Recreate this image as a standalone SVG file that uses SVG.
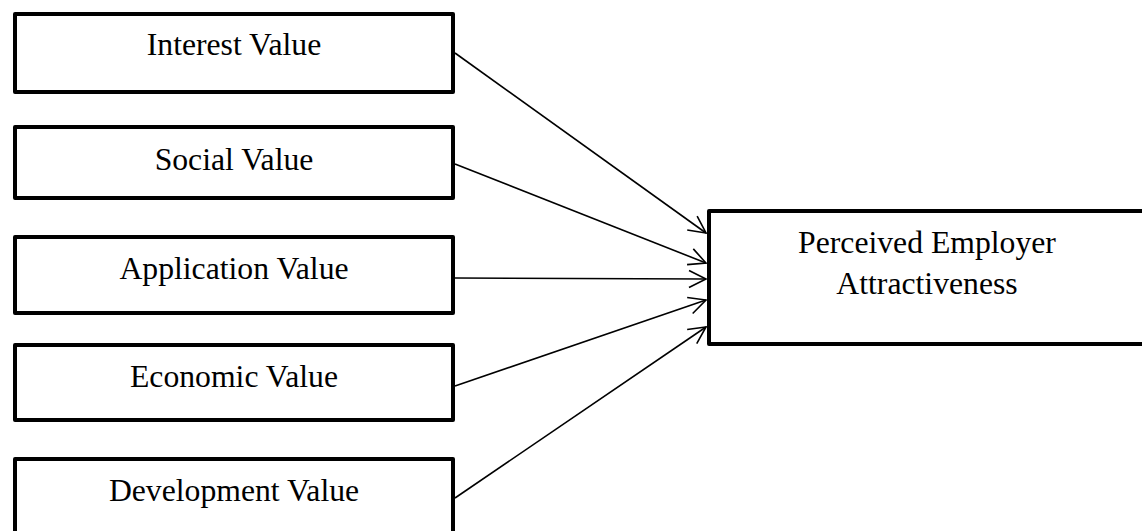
<svg xmlns="http://www.w3.org/2000/svg" width="1142" height="531" viewBox="0 0 1142 531">
<style>
.box{fill:#fff;stroke:#000;stroke-width:4;stroke-linejoin:round}
.lbl{font-family:"Liberation Serif","Times New Roman",serif;font-size:31.7px;fill:#000;text-anchor:middle}
.conn{stroke:#000;stroke-width:1.6;fill:none;marker-end:url(#arr)}
</style>
<defs>
<marker id="arr" markerUnits="userSpaceOnUse" markerWidth="24" markerHeight="24" viewBox="-20 -12 24 24" refX="0" refY="0" orient="auto">
<path d="M-17,-8.5 L0,0 L-17,8.5" fill="none" stroke="#000" stroke-width="1.6"/>
</marker>
</defs>
<rect width="1142" height="531" fill="#fff"/>
<g id="connectors">
<line class="conn" x1="455" y1="53" x2="706" y2="233"/>
<line class="conn" x1="455" y1="164" x2="706" y2="263"/>
<line class="conn" x1="455" y1="278" x2="706" y2="279"/>
<line class="conn" x1="455" y1="386" x2="706" y2="300"/>
<line class="conn" x1="455" y1="498" x2="706" y2="327"/>
</g>
<g id="interest">
<rect class="box" x="15" y="14" width="438" height="78"/>
<text class="lbl" x="234" y="55">Interest Value</text>
</g>
<g id="social">
<rect class="box" x="15" y="127" width="438" height="71"/>
<text class="lbl" x="234" y="170">Social Value</text>
</g>
<g id="application">
<rect class="box" x="15" y="237" width="438" height="76"/>
<text class="lbl" x="234" y="279">Application Value</text>
</g>
<g id="economic">
<rect class="box" x="15" y="345" width="438" height="75"/>
<text class="lbl" x="234" y="387">Economic Value</text>
</g>
<g id="development">
<rect class="box" x="15" y="459" width="438" height="90"/>
<text class="lbl" x="234" y="501">Development Value</text>
</g>
<g id="perceived">
<rect class="box" x="709" y="211" width="450" height="133"/>
<text class="lbl" x="927" y="253">Perceived Employer</text>
<text class="lbl" x="927" y="294">Attractiveness</text>
</g>
</svg>
